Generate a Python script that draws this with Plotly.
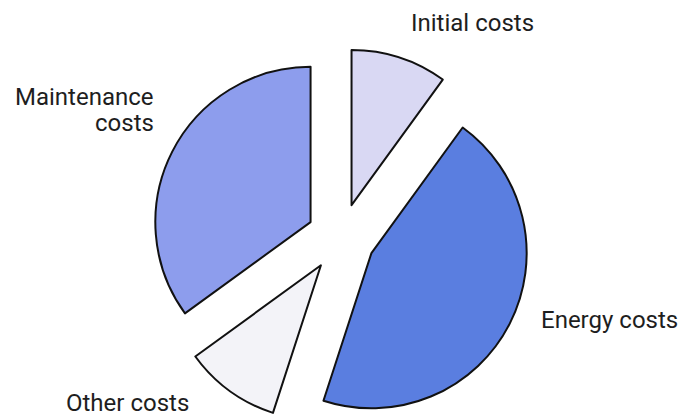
import plotly.graph_objects as go

# cost shares (%), clockwise from 12 o'clock
labels = ["Initial costs", "Energy costs", "Other costs", "Maintenance costs"]
shares = [10, 45, 10, 35]
colors = ["#d9d8f3", "#5a7ee0", "#f3f3f8", "#8d9ded"]

fig = go.Figure(go.Pie(
    labels=labels,
    values=shares,
    sort=False,
    direction="clockwise",
    rotation=0,
    pull=0.22,
    textinfo="none",
    hoverinfo="label+percent",
    marker=dict(colors=colors, line=dict(color="#111111", width=2)),
    domain=dict(x=[0.1819, 0.7819], y=[0.0, 0.904]),
))

# label positions in pixels (x, y of text middle, anchor)
label_pos = {
    "Initial costs": [(464, 15, "center")],
    "Energy costs": [(531, 312, "left")],
    "Other costs": [(56, 395, "left")],
    "Maintenance costs": [(148, 89, "right"), (148, 115, "right")],
}
for name in labels:
    pos = label_pos[name]
    parts = [name] if len(pos) == 1 else name.split(" ")
    for part, (x, y, anchor) in zip(parts, pos):
        fig.add_annotation(
            x=x / 691, y=1 - y / 419, xref="paper", yref="paper",
            text=part, showarrow=False,
            xanchor=anchor, yanchor="middle",
            font=dict(family="Roboto, Arial, sans-serif", size=24, color="#1e1e1e"),
        )

fig.update_layout(
    width=691, height=419,
    margin=dict(l=0, r=0, t=0, b=0),
    paper_bgcolor="white",
    plot_bgcolor="white",
    showlegend=False,
)

fig.write_html("out.html")
